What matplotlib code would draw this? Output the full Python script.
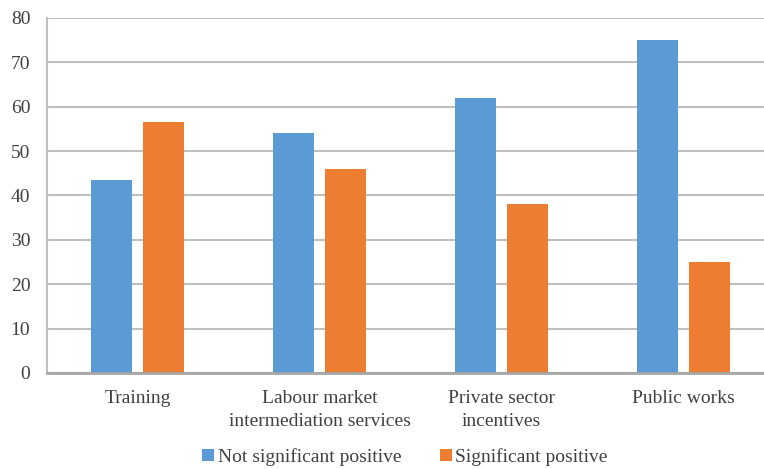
import matplotlib
matplotlib.use("Agg")
import matplotlib.pyplot as plt
import numpy as np

categories = ["Training", "Labour market\nintermediation services", "Private sector\nincentives", "Public works"]
not_sig = [43.5, 54, 62, 75]
sig = [56.5, 46, 38, 25]
series_names = ["Not significant positive", "Significant positive"]
yticks = [0, 10, 20, 30, 40, 50, 60, 70, 80]

plt.rcParams['font.family'] = ['Liberation Serif', 'DejaVu Serif']
fig = plt.figure(figsize=(7.64, 4.69), dpi=100)
ax = fig.add_axes([0.0615, 0.2047, 0.9516, 0.757])

x = np.arange(len(categories)) + 0.5
w = 0.225
off = 0.143
ax.bar(x - off, not_sig, w, color="#5B9BD5", label=series_names[0], zorder=3)
ax.bar(x + off, sig, w, color="#ED7D31", label=series_names[1], zorder=3)

ax.set_xlim(0, 4)
ax.set_ylim(0, 80)
ax.set_yticks(yticks)
ax.set_xticks(x)
ax.set_xticklabels(categories, fontsize=14, color="#404040", linespacing=1.45)
ax.tick_params(axis='y', labelsize=14, colors="#404040", length=0, pad=12)
ax.tick_params(axis='x', length=0, pad=12)
ax.grid(axis='y', color="#BFBFBF", linewidth=1.5, zorder=0)
for s in ['top', 'right']:
    ax.spines[s].set_visible(False)
ax.spines['left'].set_color("#BFBFBF")
ax.spines['left'].set_linewidth(1.5)
ax.spines['bottom'].set_color("#A6A6A6")
ax.spines['bottom'].set_linewidth(2)
ax.spines['bottom'].set_zorder(4)

fig.legend(loc='lower center', bbox_to_anchor=(0.53, -0.03), ncol=2, frameon=False,
           fontsize=14, handlelength=0.6, handleheight=0.6, handletextpad=0.2,
           columnspacing=2.0, labelcolor="#404040")

fig.savefig("out.png", dpi=100)
